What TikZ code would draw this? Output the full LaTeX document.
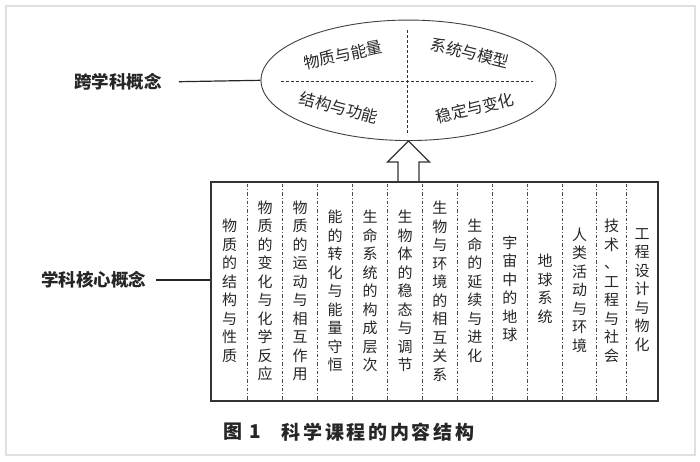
\documentclass[tikz,border=0pt]{standalone}
\usepackage{fontspec}
\setmainfont{Noto Sans CJK SC}
\newfontfamily\capfont[LetterSpace=14]{Noto Sans CJK SC}
\usetikzlibrary{shapes.geometric,calc}
\tikzset{
 frame/.style={draw=black!12, line width=1.5pt},
 ellst/.style={ellipse, draw=black!75, line width=0.9pt, minimum width=295pt, minimum height=120.5pt, inner sep=0pt},
 qtext/.style={font=\fontsize{16}{18}\selectfont, text=black!85, inner sep=0pt},
 lab/.style={font=\fontsize{17.5}{20}\selectfont\bfseries, text=black!85, inner sep=0pt},
 conn/.style={draw=black!85, line width=1.2pt},
 boxst/.style={draw=black!80, line width=1.4pt, minimum width=446pt, minimum height=217.8pt, inner sep=0pt},
 divst/.style={draw=black!70, line width=0.9pt, dash pattern=on 3.5pt off 2pt on 1pt off 2pt},
 qdash/.style={draw=black!80, line width=0.9pt, dash pattern=on 3pt off 2pt},
 coltext/.style={font=\fontsize{15}{18.5}\selectfont, align=center, inner sep=0pt, text=black!85},
 arrowst/.style={draw=black!80, line width=1.1pt, fill=white, line join=miter},
 capst/.style={font=\capfont\fontsize{19}{22}\selectfont\bfseries, text=black!85, inner sep=0pt, anchor=west}
}
\begin{document}
\begin{tikzpicture}[x=1pt,y=-1pt]
\useasboundingbox (0,0) rectangle (700,461);
\draw[frame] (6,6) rectangle (695,455);

% ellipse of cross-cutting concepts
\node[ellst] (ell) at (408.5,80.3) {};
\draw[qdash] (280.7,81.5) -- (533,81.5);
\draw[qdash] (407.3,30) -- (407.3,135);
\node[qtext, rotate=12]  (q1) at (343,55) {物质与能量};
\node[qtext, rotate=-14] (q2) at (470,53) {系统与模型};
\node[qtext, rotate=-15] (q3) at (339,107.5) {结构与功能};
\node[qtext, rotate=14]  (q4) at (475,108) {稳定与变化};

% labels
\node[lab] (lab1) at (118,82) {跨学科概念};
\draw[conn, shorten <=17pt] (lab1.east) -- (ell.west);

% box of core concepts
\node[boxst] (box) at (434.7,291.6) {};
\node[lab] (lab2) at (93.7,280) {学科核心概念};
\draw[conn, shorten <=10pt] (lab2.east) -- (lab2.east -| box.west);

% hollow arrow
\draw[arrowst] (ell.south) -- ++(-21,21) -- ++(10.5,0)
  -- ($(ell.south |- box.north)+(-10.5,0)$)
  -- ($(ell.south |- box.north)+(10.5,0)$)
  -- ($(ell.south)+(10.5,21)$) -- ++(10.5,0) -- cycle;
\draw[boxst] (box.north west) rectangle (box.south east);

% dividers
\foreach \x in {247.3,282.7,317.7,352.7,387.7,422.3,457.3,492.3,527.3,562.7,596.7,626.7}
  \draw[divst] (\x,183.5) -- (\x,399.8);

% column texts
\node[coltext] (c1)  at (229.5,291) {物\\质\\的\\结\\构\\与\\性\\质};
\node[coltext] (c2)  at (265,291)   {物\\质\\的\\变\\化\\与\\化\\学\\反\\应};
\node[coltext] (c3)  at (300.2,291) {物\\质\\的\\运\\动\\与\\相\\互\\作\\用};
\node[coltext] (c4)  at (335.2,291) {能\\的\\转\\化\\与\\能\\量\\守\\恒};
\node[coltext] (c5)  at (370.2,291) {生\\命\\系\\统\\的\\构\\成\\层\\次};
\node[coltext] (c6)  at (405,291)   {生\\物\\体\\的\\稳\\态\\与\\调\\节};
\node[coltext] (c7)  at (439.8,291) {生\\物\\与\\环\\境\\的\\相\\互\\关\\系};
\node[coltext] (c8)  at (474.8,291) {生\\命\\的\\延\\续\\与\\进\\化};
\node[coltext] (c9)  at (509.8,289) {宇\\宙\\中\\的\\地\\球};
\node[coltext] (c10) at (545,289)   {地\\球\\系\\统};
\node[coltext] (c11) at (579.7,290) {人\\类\\活\\动\\与\\环\\境};
\node[coltext] (c12) at (611.7,291) {技\\术\\、\\工\\程\\与\\社\\会};
\node[coltext] (c13) at (642.2,290) {工\\程\\设\\计\\与\\物\\化};

% caption
\node[capst] (cap1) at (223,432) {图 1};
\node[capst] (cap2) at (281.7,432) {科学课程的内容结构};
\end{tikzpicture}
\end{document}
